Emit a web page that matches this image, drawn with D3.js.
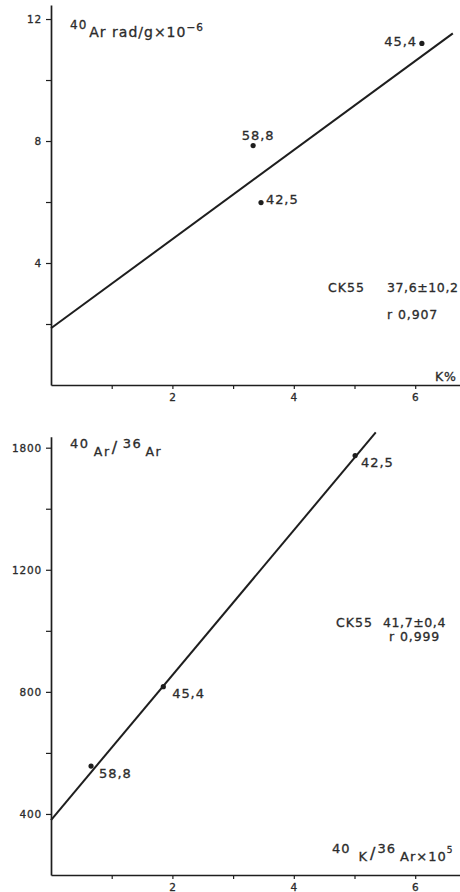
<!DOCTYPE html>
<html>
<head>
<meta charset="utf-8">
<script src="https://cdn.jsdelivr.net/npm/d3@7"></script>
<style>
  html, body { margin: 0; padding: 0; background: #ffffff; }
  svg { display: block; }
  text { font-family: "DejaVu Sans", sans-serif; fill: #2b2b2b; stroke: #2b2b2b; stroke-width: 0.3px; }
</style>
</head>
<body>
<svg id="chart" width="460" height="892"></svg>
<script>
// ---------- DATA ----------
// Top panel: 40Ar rad vs K%
const topSamples = ["45,4", "58,8", "42,5"];
const topX = [6.11, 3.33, 3.46];          // K %
const topY = [11.2, 7.85, 5.98];          // 40Ar rad / g x 10^-6
const topFitX = [0, 6.62];
const topFitY = [1.86, 11.53];
const topYTicks = [2, 4, 6, 8, 10, 12];
const topYTickLabels = ["", "4", "", "8", "", "12"];
const xTicks = [1, 2, 3, 4, 5, 6];
const xTickLabels = ["", "2", "", "4", "", "6"];
const topStats = ["CK55", "37,6±10,2", "r 0,907"];

// Bottom panel: 40Ar/36Ar vs 40K/36Ar
const botSamples = ["42,5", "45,4", "58,8"];
const botX = [5.01, 1.85, 0.66];          // 40K/36Ar x 10^5
const botY = [1574, 817, 557];            // 40Ar/36Ar
const botFitX = [0, 5.35];
const botFitY = [380, 1650];
const botYTicks = [400, 600, 800, 1000, 1200, 1400, 1600];
const botYTickLabels = ["400", "", "800", "", "1200", "", "1800"];
const botStats = ["CK55", "41,7±0,4", "r 0,999"];

// ---------- DRAW ----------
const svg = d3.select("#chart");
const ink = "#1e1e1e";

function panel(cfg) {
  const g = svg.append("g");
  const x = cfg.x, y = cfg.y;

  const yAxis = d3.axisLeft(y)
    .tickValues(cfg.yTicks)
    .tickFormat((d, i) => cfg.yTickLabels[i])
    .tickSize(5).tickSizeOuter(0).tickPadding(4);
  const ya = g.append("g").attr("transform", `translate(${x.range()[0]},0)`).call(yAxis);
  const xAxis = d3.axisBottom(x)
    .tickValues(xTicks)
    .tickFormat((d, i) => xTickLabels[i])
    .tickSize(4).tickSizeOuter(0).tickPadding(5);
  const xa = g.append("g").attr("transform", `translate(0,${y.range()[0]})`).call(xAxis);

  [ya, xa].forEach(a => {
    a.select(".domain").attr("stroke", ink).attr("stroke-width", 1.7);
    a.selectAll(".tick line").attr("stroke", ink).attr("stroke-width", 1.2);
    a.selectAll(".tick text")
      .style("font-family", "DejaVu Sans, sans-serif")
      .style("font-size", "10.5px").style("letter-spacing", "0.8px")
      .attr("fill", "#2b2b2b");
  });

  const line = d3.line().x(d => x(d[0])).y(d => y(d[1]));
  g.append("path")
    .datum(cfg.fitX.map((v, i) => [v, cfg.fitY[i]]))
    .attr("d", line).attr("fill", "none")
    .attr("stroke", ink).attr("stroke-width", 2);

  const pts = cfg.xs.map((v, i) => ({ x: v, y: cfg.ys[i], label: cfg.labels[i], off: cfg.labelOffsets[i] }));
  g.selectAll("circle.pt").data(pts).enter().append("circle")
    .attr("class", "pt")
    .attr("cx", d => x(d.x)).attr("cy", d => y(d.y)).attr("r", 2.6)
    .attr("fill", ink);
  g.selectAll("text.pl").data(pts).enter().append("text")
    .attr("class", "pl")
    .attr("x", d => x(d.x) + d.off[0])
    .attr("y", d => y(d.y) + d.off[1])
    .attr("text-anchor", d => d.off[2])
    .style("font-size", "13px").style("letter-spacing", "0.9px")
    .text(d => d.label);

  const s = cfg.statPos;
  g.append("text").attr("x", s[0]).attr("y", s[2]).style("font-size", "12.5px").style("letter-spacing", "1px").text(cfg.stats[0]);
  g.append("text").attr("x", s[1]).attr("y", s[2]).style("font-size", "12.5px").style("letter-spacing", "0.6px").text(cfg.stats[1]);
  g.append("text").attr("x", s[3]).attr("y", s[4]).style("font-size", "12.5px").style("letter-spacing", "0.9px").text(cfg.stats[2]);
  return g;
}

const xTop = d3.scaleLinear().domain([0, 6.738]).range([51, 460]);
const yTop = d3.scaleLinear().domain([0, 12.46]).range([385, 5]);
panel({
  x: xTop, y: yTop, yTicks: topYTicks, yTickLabels: topYTickLabels,
  fitX: topFitX, fitY: topFitY, xs: topX, ys: topY, labels: topSamples,
  labelOffsets: [[-5, 3, "end"], [5, -6, "middle"], [5, 1, "start"]],
  stats: topStats, statPos: [328, 387, 291.5, 387, 319]
});

const xBot = d3.scaleLinear().domain([0, 6.738]).range([51, 460]);
const yBot = d3.scaleLinear().domain([200, 1636]).range([875, 436.7]);
panel({
  x: xBot, y: yBot, yTicks: botYTicks, yTickLabels: botYTickLabels,
  fitX: botFitX, fitY: botFitY, xs: botX, ys: botY, labels: botSamples,
  labelOffsets: [[6, 11, "start"], [9, 11, "start"], [8, 12, "start"]],
  stats: botStats, statPos: [336, 383, 627, 389, 641]
});

// axis titles
const t1 = svg.append("text").attr("x", 70).attr("y", 36.5).style("letter-spacing", "1px");
t1.append("tspan").attr("y", 29.3).style("font-size", "12px").text("40");
t1.append("tspan").attr("dx", 2).attr("y", 36.5).style("font-size", "14px").text("Ar rad/g×10");
t1.append("tspan").attr("y", 31).style("font-size", "10.5px").text("−6");

svg.append("text").attr("x", 435).attr("y", 380.7)
  .style("font-size", "12.5px").style("letter-spacing", "0.8px").text("K%");

const t2 = svg.append("text").attr("x", 70).attr("y", 448).style("letter-spacing", "1.6px");
t2.append("tspan").attr("y", 448).style("font-size", "13px").text("40");
t2.append("tspan").attr("dx", 4).attr("y", 455.5).style("font-size", "12.5px").text("Ar");
t2.append("tspan").attr("dx", 1).attr("y", 453).style("font-size", "16px").text("/");
t2.append("tspan").attr("dx", 4).attr("y", 448).style("font-size", "13px").text("36");
t2.append("tspan").attr("dx", 3).attr("y", 455.5).style("font-size", "12.5px").text("Ar");

const t3 = svg.append("text").attr("x", 332).attr("y", 852.7).style("letter-spacing", "1px");
t3.append("tspan").attr("y", 852.7).style("font-size", "13px").text("40");
t3.append("tspan").attr("dx", 8).attr("y", 861).style("font-size", "13px").text("K");
t3.append("tspan").attr("dx", 2).attr("y", 859).style("font-size", "16px").text("/");
t3.append("tspan").attr("dx", 1).attr("y", 852.7).style("font-size", "13px").text("36");
t3.append("tspan").attr("dx", 4).attr("y", 861).style("font-size", "13px").text("Ar×10");
t3.append("tspan").attr("y", 853).style("font-size", "9px").text("5");
</script>
</body>
</html>
